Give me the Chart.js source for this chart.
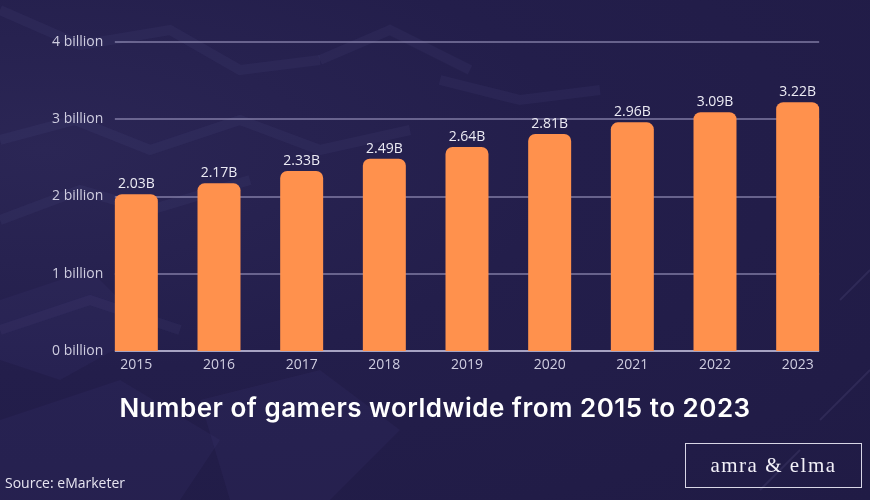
<!DOCTYPE html>
<html>
<head>
<meta charset="utf-8">
<script src="https://cdn.jsdelivr.net/npm/chart.js@4"></script>
<style>
  html, body { margin: 0; padding: 0; }
  body {
    width: 870px; height: 500px; overflow: hidden; position: relative;
    background: radial-gradient(ellipse at 5% 30%, #2b2655 0%, #231e4b 45%, #201b45 100%);
  }
  #bg { position: absolute; left: 0; top: 0; }
  #wrap { position: absolute; left: 0; top: 0; width: 870px; height: 500px; }
  #title {
    position: absolute; left: 0; width: 870px; top: 392px; text-align: center;
    font-family: Inter, sans-serif; font-weight: 600; font-size: 26px; letter-spacing: 0.5px;
    color: #ffffff;
  }
  #source {
    position: absolute; left: 5px; top: 473px;
    font-family: "Open Sans", sans-serif; font-size: 14px; color: #e6e4f0;
  }
  #logo {
    position: absolute; left: 685px; top: 443px; width: 177px; height: 45px;
    border: 1px solid #d8d6e6; box-sizing: border-box;
    font-family: "Liberation Serif", "DejaVu Serif", serif; font-size: 21px; color: #f2f0f8;
    text-align: center; line-height: 43px; letter-spacing: 1.5px;
  }
</style>
</head>
<body>
<svg id="bg" width="870" height="500">
  <g fill="none" stroke="rgba(120,110,180,0.08)" stroke-width="10">
    <polyline points="0,10 80,45 170,30 240,70 320,60" />
    <polyline points="0,140 75,120 150,150 240,120 320,150 410,130" />
    <polyline points="0,220 80,190 150,210 250,180" />
    <polyline points="320,60 390,30 470,70" />
    <polyline points="0,330 90,300 180,330" />
    <polyline points="440,80 520,100 600,90" />
  </g>
  <g fill="rgba(90,80,150,0.09)">
    <polygon points="0,300 90,270 150,330 60,380 0,360" />
    <polygon points="0,420 120,380 220,440 180,500 0,500" />
    <polygon points="200,400 320,370 400,430 330,500 230,500" />
  </g>
  <g stroke="rgba(150,140,200,0.12)" stroke-width="2">
    <line x1="840" y1="300" x2="870" y2="270" />
    <line x1="820" y1="420" x2="870" y2="370" />
    <line x1="760" y1="490" x2="800" y2="450" />
  </g>
</svg>
<div id="wrap"><canvas id="chart" width="870" height="500"></canvas></div>
<div id="title">Number of gamers worldwide from 2015 to 2023</div>
<div id="source">Source: eMarketer</div>
<div id="logo">amra &amp; elma</div>
<script>
// data
const years = ['2015', '2016', '2017', '2018', '2019', '2020', '2021', '2022', '2023'];
const gamers = [2.03, 2.17, 2.33, 2.49, 2.64, 2.81, 2.96, 3.09, 3.22]; // billions
const yTicks = [0, 1, 2, 3, 4];

// gridlines only from first bar to last bar
const gridPlugin = {
    id: 'shortGrid',
    beforeDatasetsDraw(chart) {
        const ctx = chart.ctx;
        const bars = chart.getDatasetMeta(0).data;
        const first = bars[0], last = bars[bars.length - 1];
        const x0 = first.x - first.width / 2;
        const x1 = last.x + last.width / 2;
        const y = chart.scales.y;
        ctx.save();
        yTicks.forEach(v => {
            const py = Math.round(y.getPixelForValue(v));
            ctx.strokeStyle = v === 0 ? 'rgba(200,196,225,0.8)' : 'rgba(160,155,195,0.55)';
            ctx.lineWidth = 2;
            ctx.beginPath();
            ctx.moveTo(x0, py);
            ctx.lineTo(x1, py);
            ctx.stroke();
        });
        ctx.restore();
    }
};

// value labels above bars
const labelPlugin = {
    id: 'valueLabels',
    afterDatasetsDraw(chart) {
        const ctx = chart.ctx;
        ctx.save();
        ctx.font = '14px "Open Sans", sans-serif';
        ctx.fillStyle = '#ecebf4';
        ctx.textAlign = 'center';
        ctx.textBaseline = 'bottom';
        chart.getDatasetMeta(0).data.forEach((bar, i) => {
            ctx.fillText(gamers[i].toFixed(2) + 'B', bar.x, bar.y - 3);
        });
        ctx.restore();
    }
};

const ctx = document.getElementById('chart').getContext('2d');
new Chart(ctx, {
    type: 'bar',
    data: {
        labels: years,
        datasets: [{
            data: gamers,
            backgroundColor: '#ff914d',
            borderRadius: { topLeft: 7, topRight: 7 },
            borderSkipped: false,
            barPercentage: 0.52,
            categoryPercentage: 1
        }]
    },
    options: {
        responsive: false,
        animation: false,
        layout: { padding: { left: 0, right: 31, top: 42, bottom: 119 } },
        plugins: { legend: { display: false }, tooltip: { enabled: false } },
        scales: {
            x: {
                grid: { display: false, drawTicks: false },
                border: { display: false },
                ticks: { color: '#cfcde0', font: { family: 'Open Sans', size: 14 }, padding: 6 },
                afterFit: s => { s.height = 30; }
            },
            y: {
                min: 0, max: 4,
                grid: { display: false, drawTicks: false },
                border: { display: false },
                afterBuildTicks: s => { s.ticks = yTicks.map(v => ({ value: v })); },
                ticks: {
                    mirror: true,
                    color: '#cfcde0',
                    font: { family: 'Open Sans', size: 14 },
                    padding: -43,
                    callback: v => v + ' billion'
                },
                afterFit: s => { s.width = 95; }
            }
        }
    },
    plugins: [gridPlugin, labelPlugin]
});
</script>
</body>
</html>
